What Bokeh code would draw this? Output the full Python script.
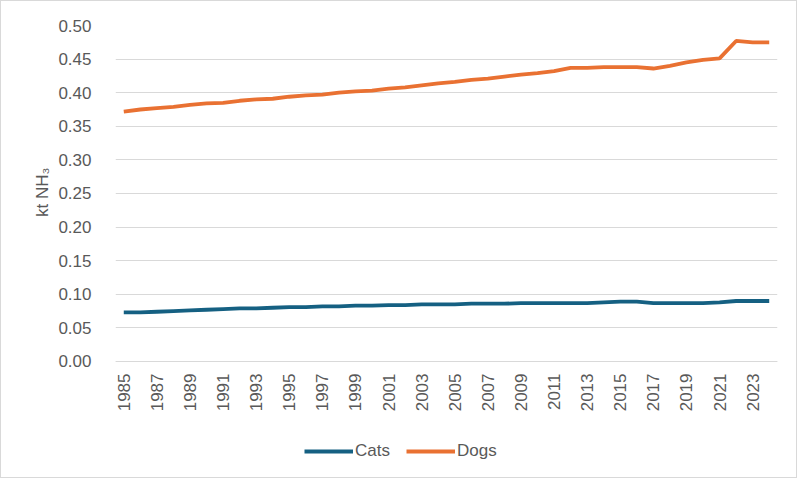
import numpy as np
from bokeh.plotting import figure
from bokeh.models import Range1d, FixedTicker, Legend, LegendItem, PrintfTickFormatter, Title
from bokeh.embed import file_html
from bokeh.resources import INLINE

years = list(range(1985, 2025))
cats = [0.073, 0.073, 0.074, 0.075, 0.076, 0.077, 0.078, 0.079, 0.079, 0.080,
        0.081, 0.081, 0.082, 0.082, 0.083, 0.083, 0.084, 0.084, 0.085, 0.085,
        0.085, 0.086, 0.086, 0.086, 0.087, 0.087, 0.087, 0.087, 0.087, 0.088,
        0.089, 0.089, 0.087, 0.087, 0.087, 0.087, 0.088, 0.090, 0.090, 0.090]
dogs = [0.372, 0.375, 0.377, 0.379, 0.382, 0.384, 0.385, 0.388, 0.390, 0.391,
        0.394, 0.396, 0.397, 0.400, 0.402, 0.403, 0.406, 0.408, 0.411, 0.414,
        0.416, 0.419, 0.421, 0.424, 0.427, 0.429, 0.432, 0.437, 0.437, 0.438,
        0.438, 0.438, 0.436, 0.440, 0.445, 0.449, 0.451, 0.477, 0.475, 0.475]
y_ticks = [0.0, 0.05, 0.10, 0.15, 0.20, 0.25, 0.30, 0.35, 0.40, 0.45, 0.50]
x_ticks = list(range(1985, 2024, 2))

FONT = "Liberation Sans"
TXT = "#595959"
GRID = "#d9d9d9"

p = figure(width=797, height=478, output_backend="svg", toolbar_location=None,
           x_range=Range1d(1984.5, 2024.5), y_range=Range1d(-0.1756, 0.5),
           min_border_left=114, min_border_right=21, min_border_top=24, min_border_bottom=0)
p.styles = {"border": "1px solid #d9d9d9"}
p.outline_line_color = None
p.background_fill_color = "white"
p.border_fill_color = "white"

p.xgrid.grid_line_color = None
p.ygrid.ticker = FixedTicker(ticks=y_ticks)
p.ygrid.grid_line_color = GRID
p.ygrid.grid_line_width = 1.2

p.yaxis.ticker = FixedTicker(ticks=y_ticks)
p.yaxis.formatter = PrintfTickFormatter(format="%.2f")
p.yaxis.axis_line_color = None
p.yaxis.major_tick_line_color = None
p.yaxis.minor_tick_line_color = None
p.yaxis.major_label_standoff = 18

p.xaxis.ticker = FixedTicker(ticks=x_ticks)
p.xaxis.fixed_location = 0
p.xaxis.axis_line_color = GRID
p.xaxis.axis_line_width = 1.2
p.xaxis.major_tick_line_color = None
p.xaxis.minor_tick_line_color = None
p.xaxis.major_label_orientation = np.pi / 2
p.xaxis.major_label_standoff = 6

for ax in (p.xaxis, p.yaxis):
    ax.major_label_text_font = FONT
    ax.major_label_text_font_size = "17px"
    ax.major_label_text_color = TXT

ylabel = Title(text="kt NH₃", align="right", offset=142, standoff=8,
               text_font=FONT, text_font_size="17px", text_font_style="normal",
               text_color=TXT)
p.add_layout(ylabel, "left")

r_cats = p.line(years, cats, line_color="#156082", line_width=3.8)
r_dogs = p.line(years, dogs, line_color="#E97132", line_width=3.8)

legend = Legend(items=[LegendItem(label="Cats", renderers=[r_cats]),
                       LegendItem(label="Dogs", renderers=[r_dogs])],
                orientation="horizontal", location=(189, 18))
legend.border_line_color = None
legend.background_fill_alpha = 0
legend.label_text_font = FONT
legend.label_text_font_size = "17px"
legend.label_text_color = TXT
legend.glyph_width = 49
legend.label_standoff = 2
legend.spacing = 16
legend.margin = 0
legend.padding = 4
p.add_layout(legend, "center")

open("out.html", "w").write(file_html(p, INLINE))
